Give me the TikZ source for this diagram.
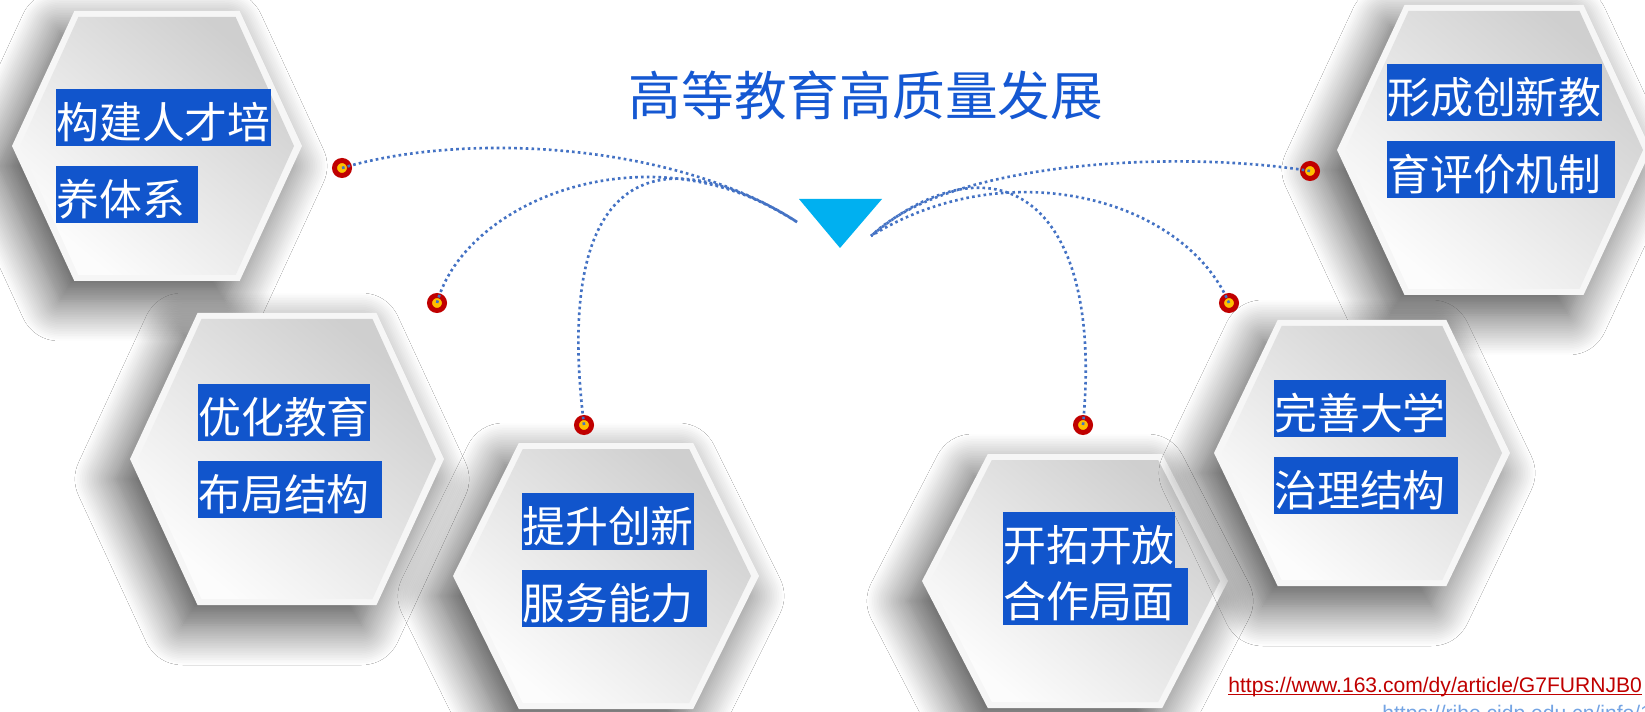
\documentclass[tikz,border=0pt]{standalone}
\usepackage{fontspec}
\setmainfont{Liberation Sans}
\newfontfamily\cjk{Noto Sans CJK SC}
\usetikzlibrary{shadows.blur}

\definecolor{hlblue}{HTML}{1155CC}
\definecolor{titleblue}{HTML}{1558D2}
\definecolor{dotred}{HTML}{C00000}
\definecolor{dotyellow}{HTML}{FFC000}
\definecolor{lineblue}{HTML}{4472C4}
\definecolor{tricyan}{HTML}{00B0F0}
\definecolor{linkblue}{HTML}{74A4E4}

\tikzset{
  hexrim/.style={fill=gray!7, blur shadow={shadow xshift=-0.3cm, shadow yshift=-0.4cm,
      shadow blur radius=0.8cm, shadow opacity=70, shadow scale=1, shadow blur steps=24}},
  hexface/.style={top color=gray!38, bottom color=gray!2, shading angle=-40},
  hltext/.style={fill=hlblue, text=white, anchor=west, inner xsep=0pt, inner ysep=0pt,
      text height=0.99cm, text depth=0.15cm, font=\cjk\fontsize{24.4pt}{29pt}\selectfont},
  dot/.style={circle, fill=dotyellow, draw=dotred, line width=0.1cm, minimum size=0.3cm, inner sep=0pt},
  link/.style={lineblue, line width=1.5pt, dash pattern=on 1.5pt off 1.8pt}
}

% hexagon: centre x, centre y, half width, half height
\newcommand{\hexa}[4]{%
  \fill[hexrim] (#1-#3,#2) -- (#1-0.57*#3,#2-#4) -- (#1+0.57*#3,#2-#4)
    -- (#1+#3,#2) -- (#1+0.57*#3,#2+#4) -- (#1-0.57*#3,#2+#4) -- cycle;
  \shade[hexface] (#1-#3+8,#2) -- (#1-0.57*#3+4,#2-#4+6) -- (#1+0.57*#3-4,#2-#4+6)
    -- (#1+#3-8,#2) -- (#1+0.57*#3-4,#2+#4-6) -- (#1-0.57*#3+4,#2+#4-6) -- cycle;
}
\newcommand{\tailgap}[1]{\rule{#1}{0pt}}

\begin{document}
\begin{tikzpicture}[x=0.02cm, y=-0.02cm]
  \clip (0,0) rectangle (1645,712);
  \fill[white] (0,0) rectangle (1645,712);

  % hexagons
  \hexa{157}{146}{145}{135}
  \hexa{1494}{150}{157}{145}
  \hexa{287}{459}{157}{146}
  \hexa{606}{576}{153}{133}
  \hexa{1075}{581}{153}{127}
  \hexa{1362}{453}{148}{133}

  % texts
  \node[hltext] (t1a) at (56,117.5) {构建人才培};
  \node[hltext] (t1b) at (56,194.5) {养体系\tailgap{0.26cm}};
  \node[hltext] (t2a) at (1387,92.5) {形成创新教};
  \node[hltext] (t2b) at (1387,169.5) {育评价机制\tailgap{0.26cm}};
  \node[hltext] (t3a) at (198,412.5) {优化教育};
  \node[hltext] (t3b) at (198,489.5) {布局结构\tailgap{0.24cm}};
  \node[hltext] (t4a) at (522,521.5) {提升创新};
  \node[hltext] (t4b) at (522,598.5) {服务能力\tailgap{0.26cm}};
  \node[hltext] (t5b) at (1003,596.5) {合作局面\tailgap{0.26cm}};
  \node[hltext] (t5a) at (1003,540.5) {开拓开放};
  \node[hltext] (t6a) at (1274,408.5) {完善大学};
  \node[hltext] (t6b) at (1274,485.5) {治理结构\tailgap{0.24cm}};

  % title and pointer
  \node[text=titleblue, font=\cjk\fontsize{30pt}{36pt}\selectfont] (title) at (866,95) {高等教育高质量发展};
  \fill[tricyan] (799,199) -- (882,199) -- (840,248) -- cycle;
  \coordinate (eL) at (797,222);
  \coordinate (eR) at (871,236);

  % dots
  \node[dot] (d1) at (342,168) {};
  \node[dot] (d2) at (437,303) {};
  \node[dot] (d3) at (584,425) {};
  \node[dot] (d4) at (1083,425) {};
  \node[dot] (d5) at (1229,303) {};
  \node[dot] (d6) at (1310,171) {};

  % dotted connectors
  \draw[link] (d1.center) .. controls (470,130) and (680,145) .. (eL);
  \draw[link] (d2.center) .. controls (465,200) and (650,125) .. (eL);
  \draw[link] (d3.center) .. controls (555,190) and (640,125) .. (eL);
  \draw[link] (d4.center) .. controls (1105,190) and (990,135) .. (eR);
  \draw[link] (d5.center) .. controls (1185,200) and (1010,150) .. (eR);
  \draw[link] (d6.center) .. controls (1180,150) and (950,160) .. (eR);

  % sources
  \node[anchor=base west, inner sep=0pt, text=dotred, font=\fontsize{12pt}{14pt}\selectfont]
    (src1) at (1228,692) {https://www.163.com/dy/article/G7FURNJB0};
  \draw[dotred, line width=0.6pt] ([yshift=-1.5pt]src1.base west) -- ([yshift=-1.5pt]src1.base east);
  \node[anchor=base west, inner sep=0pt, text=linkblue, font=\fontsize{12pt}{14pt}\selectfont]
    (src2) at (1382,720) {https://rihe.cidp.edu.cn/info/1};
\end{tikzpicture}
\end{document}
